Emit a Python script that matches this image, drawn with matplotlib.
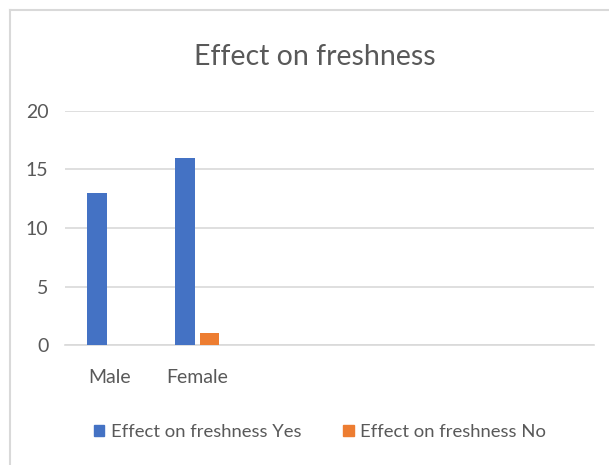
import matplotlib.pyplot as plt
import numpy as np
from matplotlib.lines import Line2D
from matplotlib.patches import Patch

plt.rcParams["font.family"] = ["Lato", "DejaVu Sans"]

categories = ["Male", "Female", "", "", "", ""]
effect_yes = [13, 16, np.nan, np.nan, np.nan, np.nan]
effect_no = [0, 1, np.nan, np.nan, np.nan, np.nan]
series_names = ["Effect on freshness Yes", "Effect on freshness No"]
yticks = [0, 5, 10, 15, 20]

BLUE = "#4472C4"
ORANGE = "#ED7D31"
TEXT = "#595959"
GRID = "#D9D9D9"

W, H = 609, 465
fig = plt.figure(figsize=(W / 100, H / 100), dpi=100)

# chart area border (only left and top edges visible in the crop)
fig.add_artist(Line2D([9.5 / W, 9.5 / W], [0, 1 - 10.5 / H], color=GRID, lw=1.5))
fig.add_artist(Line2D([9.5 / W, 1], [1 - 10.5 / H, 1 - 10.5 / H], color=GRID, lw=1.5))

ax = fig.add_axes([65 / W, 1 - 345 / H, (594 - 65) / W, (345 - 111) / H])

x = np.arange(len(categories))
bw = 0.222
off = 0.137
ax.bar(x - off, effect_yes, width=bw, color=BLUE, zorder=3)
ax.bar(x + off, effect_no, width=bw, color=ORANGE, zorder=3)

ax.set_xlim(-0.5, len(categories) - 0.5)
ax.set_ylim(0, 20)
ax.set_yticks(yticks)
ax.set_xticks(x)
ax.set_xticklabels(categories)
ax.yaxis.grid(True, color=GRID, lw=1.2, zorder=0)
ax.set_axisbelow(True)
for s in ["top", "right", "left"]:
    ax.spines[s].set_visible(False)
ax.spines["bottom"].set_color(GRID)
ax.spines["bottom"].set_linewidth(1.2)
ax.tick_params(axis="both", length=0, labelsize=14, colors=TEXT)
ax.tick_params(axis="y", pad=12)
ax.tick_params(axis="x", pad=17)

fig.text(315 / W, 1 - 57 / H, "Effect on freshness", ha="center", va="center",
         fontsize=20.5, color=TEXT)

handles = [Patch(color=BLUE), Patch(color=ORANGE)]
fig.legend(handles, series_names, loc="center", bbox_to_anchor=(320 / W, 1 - 432 / H),
           ncol=2, frameon=False, fontsize=13.3, labelcolor=TEXT,
           handlelength=0.55, handleheight=0.55, handletextpad=0.35, columnspacing=2.3)

fig.savefig("out.png", dpi=100)
